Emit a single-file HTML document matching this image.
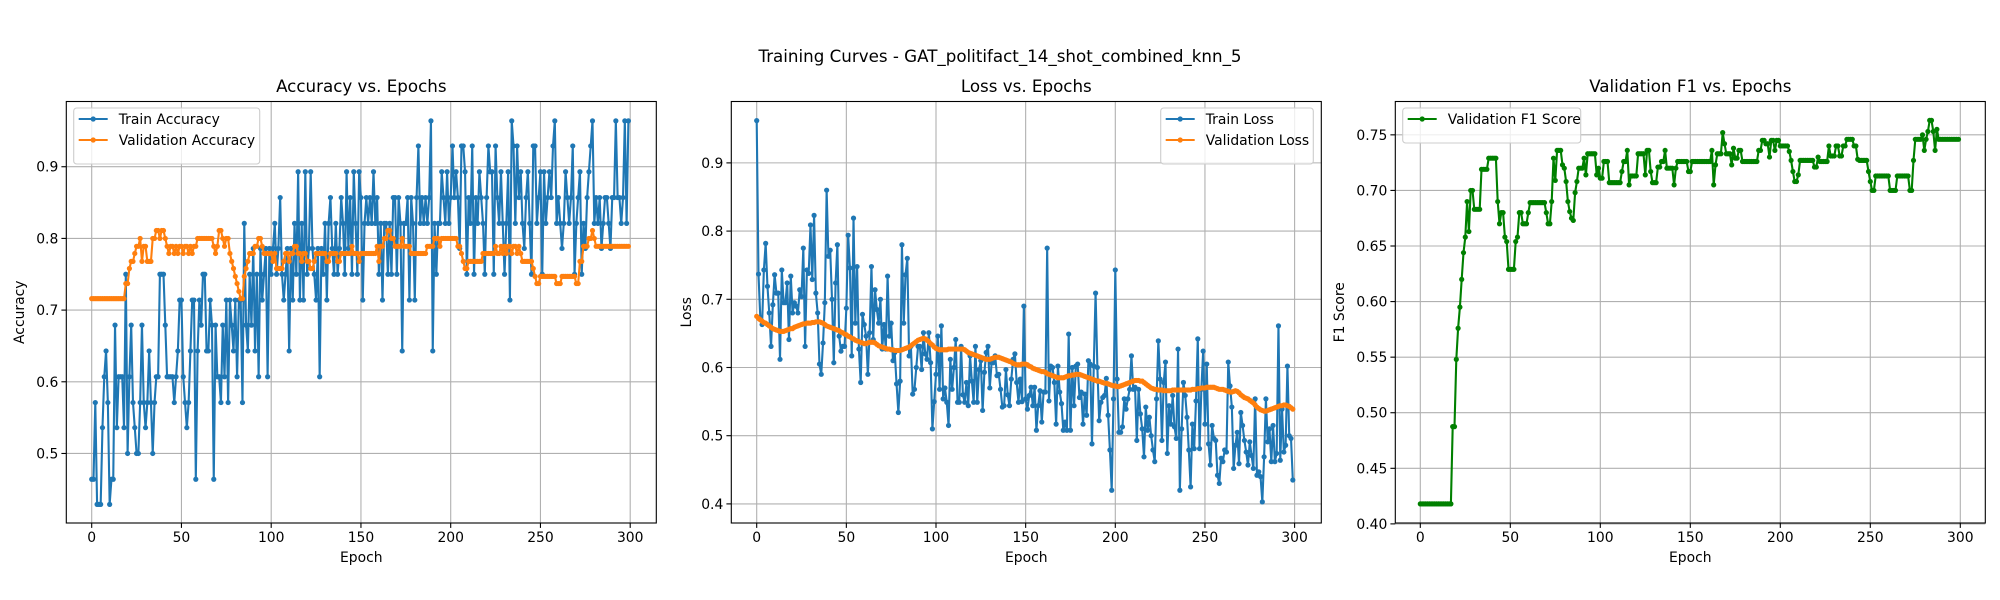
<!DOCTYPE html>
<html><head><meta charset="utf-8"><title>Training Curves</title>
<style>
html,body{margin:0;padding:0;background:#fff;}
svg{display:block;font-family:"DejaVu Sans","Liberation Sans",sans-serif;}
</style></head>
<body>
<svg id="fig" width="2000" height="600" viewBox="0 0 2000 600" xmlns="http://www.w3.org/2000/svg">
<rect x="0" y="0" width="2000" height="600" fill="#fff"/>
<text x="1000" y="62" text-anchor="middle" font-size="16.7" fill="#000">Training Curves - GAT_politifact_14_shot_combined_knn_5</text>
</svg>
<script>
const epochs = Array.from({length:300},(_,i)=>i);
const xTicks = [0,50,100,150,200,250,300];
const accTicks = [0.5,0.6,0.7,0.8,0.9];
const lossTicks = [0.4,0.5,0.6,0.7,0.8,0.9];
const f1Ticks = [0.40,0.45,0.50,0.55,0.60,0.65,0.70,0.75];

const trainAcc = [
.464,.464,.571,.429,.429,.429,.536,.607,.643,.571,
.429,.464,.464,.679,.536,.607,.607,.607,.536,.75,
.5,.607,.679,.571,.536,.5,.5,.571,.679,.571,
.536,.571,.643,.571,.5,.571,.607,.607,.75,.75,
.75,.679,.607,.607,.607,.607,.571,.607,.643,.714,
.714,.607,.571,.536,.571,.643,.714,.714,.464,.643,
.714,.679,.75,.75,.643,.643,.714,.679,.464,.679,
.607,.607,.571,.679,.607,.714,.571,.714,.679,.643,
.714,.607,.714,.714,.571,.821,.679,.643,.75,.679,
.786,.643,.75,.607,.786,.714,.75,.786,.607,.786,
.75,.786,.821,.75,.786,.857,.75,.714,.75,.786,
.643,.786,.714,.821,.75,.893,.714,.821,.714,.893,
.75,.786,.893,.786,.75,.714,.786,.607,.786,.75,
.821,.714,.821,.857,.786,.75,.821,.75,.786,.857,
.821,.75,.893,.786,.857,.75,.893,.821,.75,.893,
.857,.714,.821,.857,.821,.857,.821,.893,.821,.857,
.75,.821,.714,.821,.821,.75,.821,.75,.857,.857,
.75,.857,.821,.643,.821,.821,.857,.714,.857,.821,
.714,.857,.929,.821,.857,.821,.857,.821,.857,.964,
.643,.821,.75,.821,.821,.893,.857,.821,.893,.821,
.857,.929,.857,.893,.857,.786,.929,.929,.893,.75,
.857,.821,.929,.75,.857,.821,.893,.857,.821,.75,
.857,.929,.893,.893,.75,.929,.857,.821,.893,.821,
.75,.821,.893,.714,.964,.929,.821,.929,.857,.893,
.821,.786,.857,.893,.821,.75,.929,.929,.821,.857,
.893,.75,.893,.821,.857,.893,.857,.929,.964,.821,
.857,.821,.786,.821,.893,.857,.821,.857,.929,.75,
.821,.857,.893,.75,.821,.786,.857,.893,.929,.964,
.821,.857,.821,.857,.786,.821,.857,.857,.821,.786,
.857,.857,.964,.857,.857,.821,.857,.964,.821,.964];

const valAcc = [
.716,.716,.716,.716,.716,.716,.716,.716,.716,.716,
.716,.716,.716,.716,.716,.716,.716,.716,.716,.737,
.737,.758,.768,.768,.779,.789,.789,.8,.768,.789,
.789,.768,.768,.768,.8,.8,.811,.811,.8,.811,
.811,.8,.789,.779,.789,.789,.779,.789,.779,.789,
.789,.779,.789,.789,.779,.789,.779,.789,.789,.8,
.8,.8,.8,.8,.8,.8,.8,.8,.789,.779,
.789,.811,.811,.8,.789,.8,.8,.779,.768,.758,
.747,.737,.726,.716,.716,.747,.758,.768,.779,.779,
.779,.789,.789,.8,.8,.789,.779,.779,.779,.779,
.779,.768,.779,.758,.758,.758,.758,.768,.779,.779,
.768,.779,.779,.789,.789,.779,.779,.768,.779,.779,
.768,.768,.758,.758,.768,.779,.779,.779,.779,.779,
.779,.768,.768,.779,.779,.779,.779,.768,.768,.779,
.779,.779,.779,.779,.779,.789,.779,.779,.779,.768,
.779,.779,.779,.779,.779,.779,.779,.779,.779,.789,
.768,.789,.789,.8,.8,.811,.811,.8,.8,.789,
.789,.789,.789,.8,.789,.789,.789,.789,.779,.779,
.779,.779,.779,.779,.779,.779,.779,.789,.789,.789,
.789,.8,.8,.8,.789,.8,.8,.8,.8,.8,
.8,.8,.8,.8,.789,.789,.779,.768,.758,.758,
.768,.768,.768,.768,.768,.768,.768,.768,.779,.779,
.779,.779,.779,.779,.779,.789,.779,.779,.789,.779,
.789,.779,.789,.789,.779,.789,.789,.779,.789,.779,
.768,.768,.768,.768,.768,.768,.758,.747,.737,.737,
.747,.747,.747,.747,.747,.747,.747,.747,.747,.737,
.737,.737,.747,.747,.747,.747,.747,.747,.747,.747,
.737,.737,.768,.768,.789,.789,.789,.8,.8,.811,
.8,.789,.789,.789,.789,.789,.789,.789,.789,.789,
.789,.789,.789,.789,.789,.789,.789,.789,.789,.789];

const trainLoss = [
.962,.737,.673,.663,.743,.782,.719,.680,.631,.692,
.736,.709,.709,.612,.743,.695,.695,.724,.641,.734,
.680,.695,.690,.680,.714,.704,.775,.631,.743,.738,
.809,.729,.823,.709,.680,.605,.590,.636,.695,.860,
.763,.772,.700,.607,.724,.780,.646,.624,.631,.631,
.687,.794,.746,.617,.819,.665,.748,.627,.578,.678,
.663,.646,.590,.651,.748,.641,.714,.685,.665,.700,
.627,.663,.627,.734,.646,.665,.610,.622,.576,.534,
.58,.780,.665,.736,.760,.617,.631,.561,.568,.60,
.631,.631,.597,.651,.62,.612,.651,.607,.510,.55,
.59,.646,.568,.661,.554,.57,.549,.515,.612,.568,
.60,.641,.549,.549,.631,.56,.549,.578,.544,.617,
.58,.549,.631,.549,.597,.61,.537,.593,.622,.631,
.57,.607,.607,.617,.588,.59,.568,.542,.544,.597,
.56,.544,.583,.612,.62,.578,.549,.583,.55,.690,
.554,.539,.559,.571,.544,.571,.508,.544,.566,.520,
.564,.564,.775,.551,.602,.600,.578,.517,.602,.564,
.547,.508,.520,.508,.649,.508,.600,.544,.602,.605,
.556,.564,.517,.561,.530,.610,.605,.488,.602,.709,
.600,.522,.549,.556,.559,.584,.530,.479,.420,.554,
.743,.583,.505,.505,.513,.554,.539,.554,.568,.617,
.568,.571,.493,.568,.532,.510,.469,.542,.508,.527,
.500,.479,.462,.554,.639,.583,.493,.578,.608,.474,
.544,.517,.559,.513,.496,.627,.420,.510,.578,.559,
.527,.479,.425,.517,.481,.551,.642,.481,.568,.624,
.517,.605,.488,.457,.515,.496,.493,.442,.430,.467,
.462,.479,.476,.608,.573,.542,.452,.486,.505,.459,
.534,.515,.493,.476,.457,.491,.471,.452,.554,.442,
.447,.440,.403,.469,.554,.491,.510,.462,.515,.462,
.474,.661,.464,.539,.476,.486,.602,.500,.496,.435];

const valLoss = [
.675,.672,.670,.668,.666,.665,.663,.661,.659,.657,
.656,.655,.654,.653,.653,.653,.654,.655,.656,.657,
.657,.659,.660,.661,.662,.663,.664,.664,.665,.665,
.665,.666,.666,.667,.667,.667,.666,.665,.663,.661,
.660,.659,.658,.657,.656,.655,.654,.652,.651,.649,
.648,.646,.645,.643,.642,.640,.639,.638,.637,.636,
.635,.635,.636,.637,.637,.637,.636,.634,.632,.631,
.630,.629,.628,.627,.627,.626,.626,.625,.625,.625,
.625,.626,.627,.628,.629,.630,.632,.634,.636,.638,
.640,.641,.642,.643,.642,.640,.638,.635,.633,.630,
.628,.627,.626,.626,.626,.626,.626,.627,.627,.627,
.627,.627,.627,.627,.627,.627,.626,.624,.622,.621,
.620,.619,.618,.617,.616,.615,.614,.613,.612,.612,
.612,.613,.614,.615,.615,.615,.614,.613,.612,.611,
.610,.609,.608,.606,.605,.604,.604,.604,.605,.605,
.605,.604,.602,.601,.599,.598,.597,.596,.595,.594,
.594,.593,.591,.590,.589,.588,.587,.586,.585,.585,
.585,.585,.586,.587,.588,.588,.589,.589,.590,.590,
.590,.589,.588,.587,.586,.585,.584,.583,.582,.581,
.580,.580,.579,.578,.577,.577,.576,.575,.574,.573,
.573,.572,.572,.573,.574,.575,.576,.577,.578,.579,
.580,.581,.581,.581,.580,.580,.578,.576,.574,.572,
.570,.569,.568,.568,.567,.567,.567,.566,.566,.566,
.566,.566,.567,.567,.567,.567,.567,.567,.567,.567,
.567,.567,.567,.568,.568,.568,.569,.569,.570,.570,
.570,.571,.571,.571,.571,.571,.570,.569,.568,.568,
.568,.567,.566,.565,.564,.564,.565,.566,.565,.563,
.560,.558,.556,.555,.554,.552,.550,.548,.545,.542,
.540,.538,.537,.536,.536,.537,.538,.539,.540,.541,
.542,.543,.544,.544,.545,.545,.544,.543,.541,.539];

const valF1 = [
.418,.418,.418,.418,.418,.418,.418,.418,.418,.418,
.418,.418,.418,.418,.418,.418,.418,.418,.4875,.4875,
.548,.576,.595,.620,.644,.658,.690,.663,.700,.700,
.683,.683,.683,.683,.719,.719,.719,.719,.729,.729,
.729,.729,.729,.690,.670,.680,.680,.658,.654,.629,
.629,.629,.629,.654,.658,.680,.680,.670,.670,.670,
.680,.689,.689,.689,.689,.689,.689,.689,.689,.689,
.680,.670,.670,.690,.729,.709,.736,.736,.736,.723,
.720,.708,.690,.681,.675,.673,.698,.708,.720,.720,
.720,.729,.714,.733,.733,.733,.733,.733,.714,.720,
.711,.711,.726,.726,.726,.707,.707,.707,.707,.707,
.707,.707,.717,.726,.726,.736,.705,.713,.713,.713,
.713,.733,.733,.733,.733,.714,.736,.736,.717,.707,
.707,.707,.721,.721,.726,.726,.736,.720,.720,.720,
.720,.705,.720,.726,.726,.726,.726,.726,.726,.717,
.717,.726,.726,.726,.726,.726,.726,.726,.726,.726,
.726,.726,.736,.705,.723,.733,.733,.733,.752,.742,
.733,.733,.733,.723,.738,.729,.729,.736,.736,.726,
.726,.726,.726,.726,.726,.726,.726,.726,.736,.736,
.745,.745,.742,.742,.730,.745,.745,.736,.745,.745,
.740,.740,.740,.740,.740,.735,.727,.717,.708,.708,
.714,.727,.727,.727,.727,.727,.727,.727,.727,.721,
.721,.730,.726,.726,.726,.726,.726,.740,.731,.731,
.731,.740,.740,.731,.731,.740,.740,.746,.746,.746,
.746,.740,.740,.728,.727,.727,.727,.727,.727,.717,
.708,.700,.700,.713,.713,.713,.713,.713,.713,.713,
.713,.700,.700,.700,.700,.713,.713,.713,.713,.713,
.713,.713,.700,.700,.727,.746,.746,.746,.746,.750,
.736,.746,.753,.763,.763,.753,.736,.755,.746,.746,
.746,.746,.746,.746,.746,.746,.746,.746,.746,.746];

const NS = "http://www.w3.org/2000/svg";
const svg = document.getElementById('fig');
function mk(tag, attrs, parent){
  const e = document.createElementNS(NS, tag);
  for (const k in attrs) e.setAttribute(k, attrs[k]);
  (parent||svg).appendChild(e);
  return e;
}

function drawPanel(p){
  const g = mk('g', {});
  
  
  const L=p.left, R=p.left+590, T=101.5, B=523;
  const xs = e => p.x0 + e*p.xk;
  const ys = v => T + (p.ymax - v)/(p.ymax - p.ymin)*(B-T);
  // grid
  xTicks.forEach(t=>{
    const gl = mk('line',{x1:xs(t),x2:xs(t),y1:T,y2:B,stroke:'#b0b0b0','stroke-width':1.1},g);
    
    
  });
  p.yTicks.forEach(t=>{
    const gl = mk('line',{x1:L,x2:R,y1:ys(t),y2:ys(t),stroke:'#b0b0b0','stroke-width':1.1},g);
    
    
  });
  // series
  p.series.forEach(s=>{
    const sg = mk('g',{},g);
    
    
    const pts = s.data.map((v,i)=>xs(epochs[i]).toFixed(2)+','+ys(v).toFixed(2)).join(' ');
    const pl = mk('polyline',{points:pts,fill:'none',stroke:s.color,'stroke-width':2.1,'stroke-linejoin':'round'},sg);
    
    
    s.data.forEach((v,i)=>{
      const c = mk('circle',{cx:xs(epochs[i]).toFixed(2),cy:ys(v).toFixed(2),r:2.6,fill:s.color},sg);
      
      
    });
  });
  // spines
  const fr = mk('rect',{x:L,y:T,width:590,height:B-T,fill:'none',stroke:'#000','stroke-width':1.1},g);
  
  
  // ticks
  xTicks.forEach(t=>{
    mk('line',{x1:xs(t),x2:xs(t),y1:B,y2:B+4.9,stroke:'#000','stroke-width':1.1},g);
    const tx = mk('text',{x:xs(t),y:B+19,'text-anchor':'middle','font-size':13.9,fill:'#000'},g);
    tx.textContent = t;
    
    
  });
  p.yTicks.forEach(t=>{
    mk('line',{x1:L-4.9,x2:L,y1:ys(t),y2:ys(t),stroke:'#000','stroke-width':1.1},g);
    const tx = mk('text',{x:L-8,y:ys(t)+5,'text-anchor':'end','font-size':13.9,fill:'#000'},g);
    tx.textContent = t.toFixed(p.dec);
    
    
  });
  const title = mk('text',{x:L+295,y:92,'text-anchor':'middle','font-size':16.7,fill:'#000'},g);
  title.textContent = p.title;
  
  
  const xl = mk('text',{x:L+295,y:562,'text-anchor':'middle','font-size':13.9,fill:'#000'},g);
  xl.textContent = 'Epoch';
  
  
  const yl = mk('text',{x:0,y:0,'text-anchor':'middle','font-size':13.9,fill:'#000',transform:`translate(${p.ylabX},${(T+B)/2}) rotate(-90)`},g);
  yl.textContent = p.ylabel;
  
  
  // legend
  const lg = mk('g',{},g);
  
  
  const h = 10 + p.series.length*21 + 4;
  mk('rect',{x:p.legX,y:108,width:p.legW,height:h,rx:3,fill:'#fff','fill-opacity':0.8,stroke:'#cccccc','stroke-width':1.1},lg);
  p.series.forEach((s,i)=>{
    const yy = 119 + i*21;
    const le = mk('g',{},lg);
    
    
    mk('line',{x1:p.legX+5,x2:p.legX+34,y1:yy,y2:yy,stroke:s.color,'stroke-width':2.1},le);
    mk('circle',{cx:p.legX+19.5,cy:yy,r:2.6,fill:s.color},le);
    const t = mk('text',{x:p.legX+45,y:yy+5,'font-size':13.9,fill:'#000'},le);
    t.textContent = s.label;
  });
}

drawPanel({name:'accuracy-chart',left:66.3,x0:91.7,xk:1.795,ymin:0.403,ymax:0.991,yTicks:accTicks,dec:1,
  title:'Accuracy vs. Epochs',ylabel:'Accuracy',ylabX:24,legX:73.7,legW:186,
  series:[{name:'train-accuracy',label:'Train Accuracy',color:'#1f77b4',data:trainAcc},
          {name:'validation-accuracy',label:'Validation Accuracy',color:'#ff7f0e',data:valAcc}]});
drawPanel({name:'loss-chart',left:731.3,x0:756.7,xk:1.793,ymin:0.372,ymax:0.990,yTicks:lossTicks,dec:1,
  title:'Loss vs. Epochs',ylabel:'Loss',ylabX:691,legX:1160.7,legW:152.6,
  series:[{name:'train-loss',label:'Train Loss',color:'#1f77b4',data:trainLoss},
          {name:'validation-loss',label:'Validation Loss',color:'#ff7f0e',data:valLoss}]});
drawPanel({name:'f1-chart',left:1395.3,x0:1420.3,xk:1.8,ymin:0.4008,ymax:0.780,yTicks:f1Ticks,dec:2,
  title:'Validation F1 vs. Epochs',ylabel:'F1 Score',ylabX:1344,legX:1402.7,legW:178,
  series:[{name:'validation-f1',label:'Validation F1 Score',color:'#008000',data:valF1}]});
</script>
</body></html>
